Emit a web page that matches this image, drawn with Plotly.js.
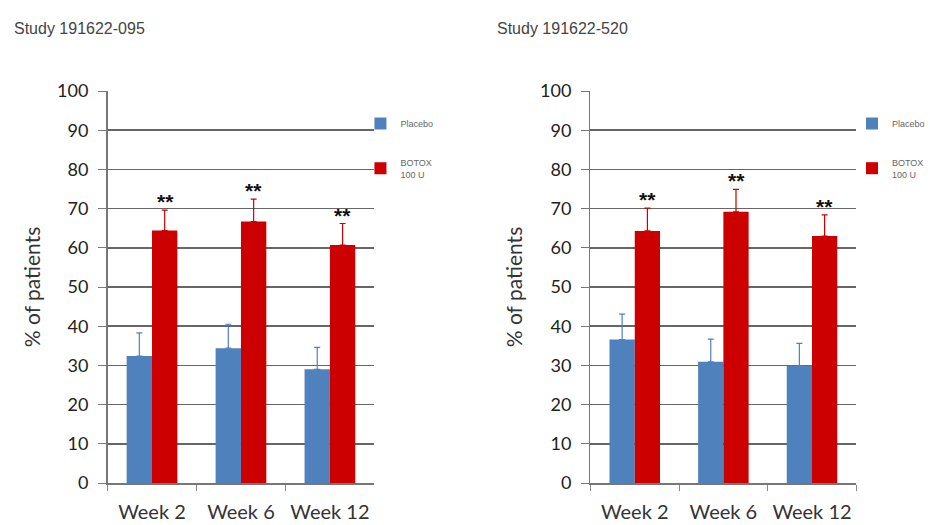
<!DOCTYPE html>
<html>
<head>
<meta charset="utf-8">
<script src="https://cdn.plot.ly/plotly-3.0.1.min.js"></script>
<style>html,body{margin:0;padding:0;background:#fff;}#chart{width:930px;height:525px;}</style>
</head>
<body>
<div id="chart"></div>
<script>
// ---- data ----
var categories = ["Week 2", "Week 6", "Week 12"];
var studyTitles = ["Study 191622-095", "Study 191622-520"];
var seriesNames = ["Placebo", "BOTOX<br>100 U"];
var placebo095 = [32.4, 34.4, 29.0];
var placeboErr095 = [5.9, 6.1, 5.6];
var botox095 = [64.4, 66.7, 60.7];
var botoxErr095 = [5.2, 5.7, 5.5];
var placebo520 = [36.6, 30.9, 29.9];
var placeboErr520 = [6.5, 5.8, 5.7];
var botox520 = [64.3, 69.2, 63.0];
var botoxErr520 = [5.8, 5.7, 5.4];
var sigLabel = "**";

var BLUE = "#4F81BD", RED = "#CC0000";
var FONT_T = "Lato, 'Open Sans', sans-serif";

function barTrace(name, y, err, color, xa, ya, legend, group) {
  return {
    type: "bar", name: name, x: categories, y: y,
    xaxis: xa, yaxis: ya, legend: legend, legendgroup: group,
    marker: {color: color, line: {width: 0}},
    error_y: {type: "data", symmetric: false, array: err,
              arrayminus: err.map(function(){return 0;}),
              color: color, thickness: 1.2, width: 3},
    hoverinfo: "x+y"
  };
}

var data = [
  barTrace(seriesNames[0], placebo095, placeboErr095, BLUE, "x", "y", "legend", "p1"),
  barTrace(seriesNames[1], botox095, botoxErr095, RED, "x", "y", "legend", "b1"),
  barTrace(seriesNames[0], placebo520, placeboErr520, BLUE, "x2", "y2", "legend2", "p2"),
  barTrace(seriesNames[1], botox520, botoxErr520, RED, "x2", "y2", "legend2", "b2")
];

var annotations = [];
function addStars(vals, errs, xref, yref) {
  for (var i = 0; i < categories.length; i++) {
    annotations.push({
      x: categories[i], y: vals[i] + errs[i], xref: xref, yref: yref,
      text: "<b>" + sigLabel + "</b>", showarrow: false, xanchor: "center", yanchor: "bottom",
      xshift: 13, yshift: -5,
      font: {family: "Liberation Sans, Arial, sans-serif", size: 21, color: "#111"}
    });
  }
}
addStars(botox095, botoxErr095, "x", "y");
addStars(botox520, botoxErr520, "x2", "y2");

annotations.push({xref: "paper", yref: "paper", x: 12/930, y: 1 - 28/525,
  xanchor: "left", yanchor: "middle", showarrow: false, text: studyTitles[0],
  font: {family: "Liberation Sans, Arial, sans-serif", size: 16, color: "#444"}});
annotations.push({xref: "paper", yref: "paper", x: 497/930, y: 1 - 28/525,
  xanchor: "left", yanchor: "middle", showarrow: false, text: studyTitles[1],
  font: {family: "Liberation Sans, Arial, sans-serif", size: 16, color: "#444"}});

function xAxis(domain, anchor) {
  return {
    domain: domain, anchor: anchor, type: "category",
    tickson: "boundaries", ticks: "outside", ticklen: 6, tickcolor: "#888",
    ticklabelstandoff: 10,
    showline: true, linecolor: "#777", linewidth: 1.5,
    showgrid: false, zeroline: false,
    tickfont: {family: FONT_T, size: 20, color: "#333"}, fixedrange: true
  };
}
function yAxis(anchor) {
  return {
    domain: [42/525, 434/525], anchor: anchor, range: [0, 100], dtick: 10,
    ticks: "outside", ticklen: 8, tickcolor: "#777", ticklabelstandoff: 6,
    showline: true, linecolor: "#777", linewidth: 1.5,
    showgrid: true, gridcolor: "#666", gridwidth: 1.5, zeroline: false,
    tickfont: {family: FONT_T, size: 18, color: "#222"},
    title: {text: "% of patients", standoff: 11,
            font: {family: FONT_T, size: 21, color: "#333"}},
    fixedrange: true
  };
}

var legendBase = {
  orientation: "v", xanchor: "left", yanchor: "top",
  font: {family: "Liberation Sans, Arial, sans-serif", size: 9, color: "#666"},
  tracegroupgap: 22, itemwidth: 30, bgcolor: "rgba(0,0,0,0)"
};
var legend1 = Object.assign({}, legendBase, {x: 362/930, y: 1 - 109/525});
var legend2 = Object.assign({}, legendBase, {x: 856/930, y: 1 - 109/525});

var layout = {
  width: 930, height: 525,
  margin: {l: 0, r: 0, t: 0, b: 0},
  paper_bgcolor: "#fff", plot_bgcolor: "#fff",
  barmode: "group", bargap: 0.43, bargroupgap: 0,
  showlegend: true,
  legend: legend1, legend2: legend2,
  xaxis: xAxis([108/930, 376/930], "y"),
  yaxis: yAxis("x"),
  xaxis2: xAxis([593/930, 860/930], "y2"),
  yaxis2: yAxis("x2"),
  annotations: annotations
};

Plotly.newPlot("chart", data, layout, {displayModeBar: false, staticPlot: true});
</script>
</body>
</html>
